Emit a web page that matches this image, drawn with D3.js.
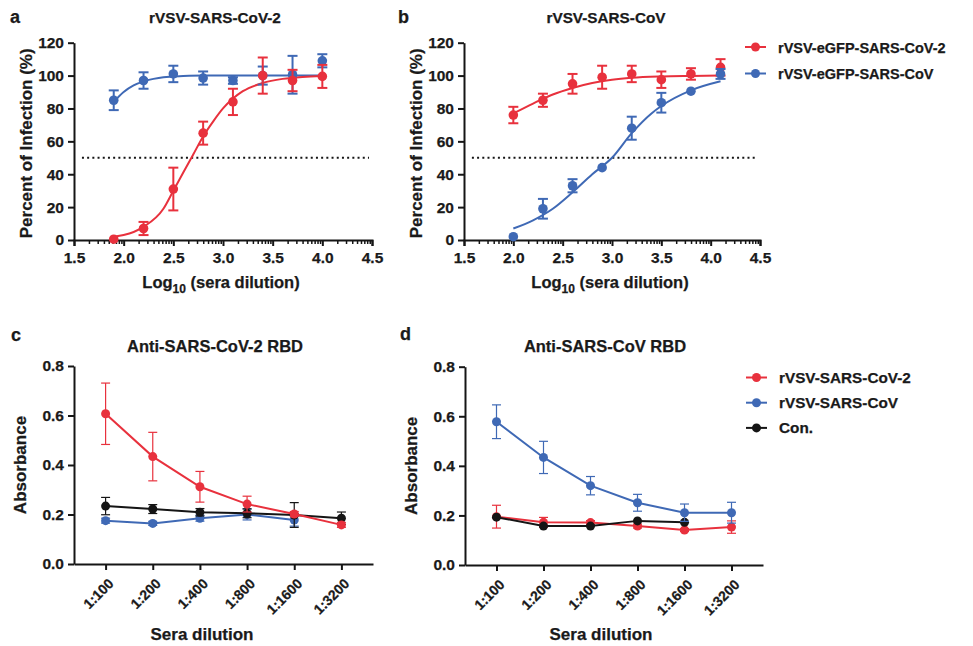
<!DOCTYPE html>
<html>
<head>
<meta charset="utf-8">
<script src="https://cdn.jsdelivr.net/npm/d3@7"></script>
<style>
  body { margin: 0; background: #fff; }
  text { font-family: "Liberation Sans", Arial, sans-serif; font-weight: bold; fill: #1a1a1a; stroke: #1a1a1a; stroke-width: 0.25px; }
</style>
</head>
<body>
<svg id="fig" width="973" height="646"></svg>
<script>
// ---- data ----
const seriesNamesTop = [`rVSV-eGFP-SARS-CoV-2`, `rVSV-eGFP-SARS-CoV`];
const seriesNamesBottom = [`rVSV-SARS-CoV-2`, `rVSV-SARS-CoV`, `Con.`];

// panel a: rVSV-SARS-CoV-2 neutralisation
const aLogDil = [1.9, 2.2, 2.5, 2.8, 3.1, 3.4, 3.7, 4.0];
const aCov2Mean = [0.5, 7, 31, 65, 84, 100, 97, 99.5];
const aCov2Err = [0, 4, 13, 7, 8, 11, 6.5, 7];
const aCovMean = [85, 97, 101, 98.5, 97, 100, 100.5, 109];
const aCovErr = [6, 5, 5, 4, 2, 5.5, 11.5, 4];
// fitted curves
const aCov2Fit = [[1.9, 2], [2.0, 3], [2.2, 8], [2.4, 19], [2.5, 30], [2.6, 41], [2.7, 52], [2.8, 63], [2.9, 72], [3.0, 80], [3.1, 86], [3.2, 90.5], [3.4, 95.5], [3.6, 98], [3.8, 99.2], [4.0, 99.7]];
const aCovFit = [[1.9, 84], [2.0, 90], [2.1, 94], [2.2, 96.5], [2.3, 98], [2.4, 99], [2.6, 99.7], [2.8, 100], [4.0, 100]];

// panel b: rVSV-SARS-CoV neutralisation
const bLogDil = [2.0, 2.3, 2.6, 2.9, 3.2, 3.5, 3.8, 4.1];
const bCov2Mean = [76, 85, 95, 99, 101, 97.5, 101, 105];
const bCov2Err = [5, 4, 6, 7, 5, 5, 3.5, 5];
const bCovMean = [2, 19, 33, 44, 68, 83.5, 90.5, 101];
const bCovErr = [0, 6, 4, 0, 7, 6, 0, 3];
const bCov2Fit = [[2.0, 77], [2.2, 83], [2.4, 88.5], [2.6, 92.5], [2.8, 95.5], [3.0, 97.5], [3.2, 98.7], [3.5, 99.5], [3.8, 99.8], [4.1, 100]];
const bCovFit = [[2.0, 7], [2.2, 12], [2.4, 19], [2.6, 29], [2.8, 40], [3.0, 50], [3.2, 65], [3.4, 77], [3.5, 81.5], [3.8, 91], [4.1, 96.5]];

const halfLine = 50;
const halfLineRange = [1.58, 4.47];

// panels c, d: ELISA
const dilutions = [`1:100`, `1:200`, `1:400`, `1:800`, `1:1600`, `1:3200`];
const cCov2Mean = [0.607, 0.434, 0.312, 0.242, 0.202, 0.158];
const cCov2Err = [0.124, 0.098, 0.062, 0.032, 0.01, 0.01];
const cCovMean = [0.175, 0.164, 0.185, 0.200, 0.178];
const cCovErr = [0.01, 0.008, 0.012, 0.022, 0.025];
const cConMean = [0.234, 0.222, 0.209, 0.205, 0.198, 0.185];
const cConErr = [0.035, 0.018, 0.015, 0.018, 0.05, 0.025];

const dCov2Mean = [0.195, 0.172, 0.171, 0.157, 0.141, 0.153];
const dCov2Err = [0.046, 0.02, 0.008, 0.008, 0.006, 0.025];
const dCovMean = [0.578, 0.434, 0.320, 0.251, 0.211, 0.211];
const dCovErr = [0.068, 0.065, 0.037, 0.034, 0.035, 0.042];
const dConMean = [0.193, 0.157, 0.157, 0.178, 0.172];
const dConErr = [0, 0, 0, 0, 0];

const RED = `#e8313d`;
const BLUE = `#3f69b5`;
const BLACK = `#151515`;

const svg = d3.select(`#fig`);

// ---- helpers ----
function styleAxis(g) {
  g.select(`.domain`).attr(`stroke`, BLACK).attr(`stroke-width`, 2);
  g.selectAll(`.tick line`).attr(`stroke`, BLACK).attr(`stroke-width`, 2);
  g.selectAll(`.tick text`).style(`font-size`, `15.5px`).attr(`fill`, BLACK);
}

function drawPoints(g, xs, ys, errs, x, y, color, opt) {
  const pts = xs.map((v, i) => ({ x: v, y: ys[i], e: errs[i] }));
  const cap = opt.cap;
  const eb = g.append(`g`);
  pts.filter((d) => d.e > 0).forEach((d) => {
    const px = x(d.x);
    eb.append(`line`).attr(`x1`, px).attr(`x2`, px).attr(`y1`, y(d.y - d.e)).attr(`y2`, y(d.y + d.e));
    eb.append(`line`).attr(`x1`, px - cap).attr(`x2`, px + cap).attr(`y1`, y(d.y + d.e)).attr(`y2`, y(d.y + d.e));
    eb.append(`line`).attr(`x1`, px - cap).attr(`x2`, px + cap).attr(`y1`, y(d.y - d.e)).attr(`y2`, y(d.y - d.e));
  });
  eb.selectAll(`line`).attr(`stroke`, color).attr(`stroke-width`, opt.errWidth);
  g.append(`g`)
    .selectAll(`circle`)
    .data(pts)
    .join(`circle`)
    .attr(`cx`, (d) => x(d.x))
    .attr(`cy`, (d) => y(d.y))
    .attr(`r`, opt.r)
    .attr(`fill`, color);
}

function panelLabel(x, y, letter) {
  svg.append(`text`).attr(`x`, x).attr(`y`, y).style(`font-size`, `18px`).text(letter);
}

function centerText(x, y, size, txt) {
  return svg.append(`text`).attr(`x`, x).attr(`y`, y).attr(`text-anchor`, `middle`).style(`font-size`, size).text(txt);
}

function yTitle(x, y, txt) {
  svg.append(`text`)
    .attr(`transform`, `translate(${x},${y}) rotate(-90)`)
    .attr(`text-anchor`, `middle`)
    .style(`font-size`, `17px`)
    .text(txt);
}

// ---- neutralisation panels (a, b) ----
function neutPanel(p) {
  const x = d3.scaleLinear().domain([1.5, 4.5]).range([p.left, p.right]);
  const y = d3.scaleLinear().domain([0, 120]).range([p.bottom, p.top]);
  const g = svg.append(`g`);

  // minor log-style ticks inside each 0.5 step
  const minor = [];
  for (let m = 1.5; m < 4.5; m += 0.5) {
    for (let k = 2; k <= 9; k++) minor.push(m + 0.5 * Math.log10(k));
  }
  g.append(`g`)
    .attr(`transform`, `translate(0,${p.bottom})`)
    .call(d3.axisBottom(x).tickValues(minor).tickSize(4).tickFormat(``))
    .call((a) => a.select(`.domain`).remove())
    .selectAll(`line`).attr(`stroke`, BLACK).attr(`stroke-width`, 1.5);

  g.append(`g`)
    .attr(`transform`, `translate(0,${p.bottom})`)
    .call(d3.axisBottom(x).tickValues(d3.range(1.5, 4.51, 0.5)).tickFormat(d3.format(`.1f`)).tickSize(6).tickSizeOuter(6).tickPadding(6))
    .call(styleAxis);
  g.append(`g`)
    .attr(`transform`, `translate(${p.left},0)`)
    .call(d3.axisLeft(y).tickValues(d3.range(0, 121, 20)).tickSize(6).tickSizeOuter(0).tickPadding(4))
    .call(styleAxis);

  // 50% line
  g.append(`line`)
    .attr(`x1`, x(halfLineRange[0])).attr(`x2`, x(halfLineRange[1]))
    .attr(`y1`, y(halfLine)).attr(`y2`, y(halfLine))
    .attr(`stroke`, BLACK).attr(`stroke-width`, 2).attr(`stroke-dasharray`, `2,3.2`);

  const line = d3.line().x((d) => x(d[0])).y((d) => y(d[1])).curve(d3.curveMonotoneX);
  p.series.forEach((s) => {
    g.append(`path`).attr(`d`, line(s.fit)).attr(`fill`, `none`).attr(`stroke`, s.color).attr(`stroke-width`, 2);
  });
  p.series.forEach((s) => {
    drawPoints(g, p.xs, s.mean, s.err, x, y, s.color, { r: 4.8, cap: 5, errWidth: 2 });
  });

  centerText(p.titleX, 23, `15.3px`, p.title);
  yTitle(p.left - 42, (p.top + p.bottom) / 2 + 2, `Percent of Infection (%)`);
  const xt = centerText((p.left + p.right) / 2 - 2, 288, `16.5px`, `Log`);
  xt.append(`tspan`).attr(`dy`, 5).style(`font-size`, `12px`).text(`10`);
  xt.append(`tspan`).attr(`dy`, -5).text(` (sera dilution)`);
}

neutPanel({
  left: 74, right: 372, top: 42.7, bottom: 240,
  title: `rVSV-SARS-CoV-2`, titleX: 215,
  xs: aLogDil,
  series: [
    { mean: aCovMean, err: aCovErr, fit: aCovFit, color: BLUE },
    { mean: aCov2Mean, err: aCov2Err, fit: aCov2Fit, color: RED },
  ],
});
neutPanel({
  left: 464, right: 760, top: 42.7, bottom: 240,
  title: `rVSV-SARS-CoV`, titleX: 606,
  xs: bLogDil,
  series: [
    { mean: bCov2Mean, err: bCov2Err, fit: bCov2Fit, color: RED },
    { mean: bCovMean, err: bCovErr, fit: bCovFit, color: BLUE },
  ],
});
panelLabel(10, 23, `a`);
panelLabel(398, 23, `b`);

// ---- ELISA panels (c, d) ----
function elisaPanel(p) {
  const x = d3.scalePoint().domain(dilutions).range([p.left, p.right]).padding(0.67);
  const y = d3.scaleLinear().domain([0, 0.8]).range([p.bottom, p.top]);
  const g = svg.append(`g`);

  g.append(`g`)
    .attr(`transform`, `translate(0,${p.bottom})`)
    .call(d3.axisBottom(x).tickSize(6).tickSizeOuter(0))
    .call(styleAxis)
    .call((a) => a.selectAll(`.tick text`)
      .attr(`x`, 0).attr(`y`, 0).attr(`dy`, `0.35em`)
      .attr(`text-anchor`, `end`)
      .attr(`transform`, `translate(5,17) rotate(-45)`)
      .style(`font-size`, `14px`));
  g.append(`g`)
    .attr(`transform`, `translate(${p.left},0)`)
    .call(d3.axisLeft(y).tickValues(d3.range(0, 0.81, 0.2)).tickFormat(d3.format(`.1f`)).tickSize(6).tickSizeOuter(0).tickPadding(4))
    .call(styleAxis);

  const line = d3.line().x((d) => x(d[0])).y((d) => y(d[1]));
  p.series.forEach((s) => {
    const pts = s.mean.map((v, i) => [dilutions[i], v]);
    g.append(`path`).attr(`d`, line(pts)).attr(`fill`, `none`).attr(`stroke`, s.color).attr(`stroke-width`, 2);
    drawPoints(g, dilutions.slice(0, s.mean.length), s.mean, s.err, x, y, s.color, { r: 4.5, cap: 4.5, errWidth: 1.2 });
  });

  centerText(p.titleX, 352, `16.5px`, p.title);
  yTitle(p.left - 48, (p.top + p.bottom) / 2, `Absorbance`);
  centerText(p.xTitleX, 640, `17px`, `Sera dilution`);
}

elisaPanel({
  left: 74, right: 373, top: 366, bottom: 564,
  title: `Anti-SARS-CoV-2 RBD`, titleX: 215, xTitleX: 202,
  series: [
    { mean: cCovMean, err: cCovErr, color: BLUE },
    { mean: cConMean, err: cConErr, color: BLACK },
    { mean: cCov2Mean, err: cCov2Err, color: RED },
  ],
});
elisaPanel({
  left: 465, right: 763, top: 366.7, bottom: 565,
  title: `Anti-SARS-CoV RBD`, titleX: 605, xTitleX: 601,
  series: [
    { mean: dCov2Mean, err: dCov2Err, color: RED },
    { mean: dConMean, err: dConErr, color: BLACK },
    { mean: dCovMean, err: dCovErr, color: BLUE },
  ],
});
panelLabel(11, 341, `c`);
panelLabel(400, 340, `d`);

// ---- legends ----
function legend(names, colors, x0, y0, step, size) {
  const lg = svg.append(`g`);
  names.forEach((n, i) => {
    const yy = y0 + i * step;
    lg.append(`line`).attr(`x1`, x0).attr(`x2`, x0 + 21).attr(`y1`, yy).attr(`y2`, yy).attr(`stroke`, colors[i]).attr(`stroke-width`, 2);
    lg.append(`circle`).attr(`cx`, x0 + 10.5).attr(`cy`, yy).attr(`r`, 4.5).attr(`fill`, colors[i]);
    lg.append(`text`).attr(`x`, x0 + 33).attr(`y`, yy + 5.5).style(`font-size`, size).text(n);
  });
}
legend(seriesNamesTop, [RED, BLUE], 745, 47, 26.5, `14.5px`);
legend(seriesNamesBottom, [RED, BLUE, BLACK], 746, 377.5, 25.2, `15.3px`);
</script>
</body>
</html>
